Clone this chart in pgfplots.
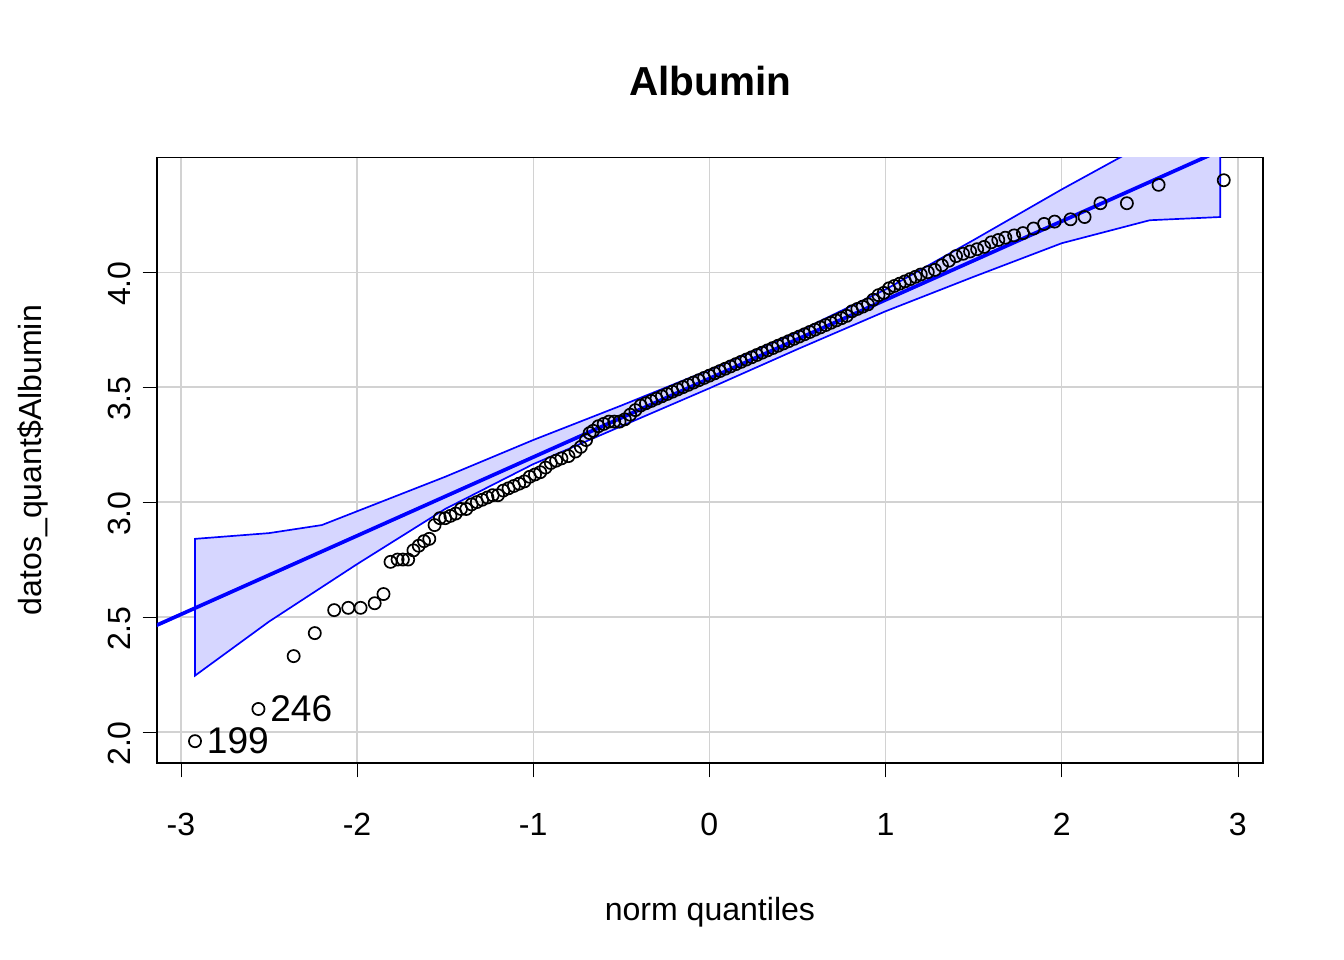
\documentclass[border=0pt]{standalone}
\usepackage{pgfplots}
\pgfplotsset{compat=1.18}
\usepackage{fontspec}
\setmainfont{Liberation Sans}
\begin{document}
\begin{tikzpicture}
\path (0,0) rectangle (14,-10);
\node[font=\fontsize{12}{14}\selectfont\bfseries] at (7.4,-0.84) {Albumin};
\begin{axis}[at={(1.635cm,-7.948cm)},anchor=south west,scale only axis,
 width=11.52cm,height=6.31cm,xmin=-3.136,xmax=3.142,ymin=1.865,ymax=4.5,
 xtick={-3,-2,-1,0,1,2,3},ytick={2,2.5,3,3.5,4},
 yticklabels={2.0,2.5,3.0,3.5,4.0},xticklabels={-3,-2,-1,0,1,2,3},
 xtick pos=left,ytick pos=left,
 grid=major,grid style={gray!35},tick align=outside,major tick length=0.15cm,
 tick style={black},axis line style={black},
 font=\fontsize{9.5}{11}\selectfont,
 x tick label style={yshift=-0.25cm},
 y tick label style={rotate=90,anchor=south,xshift=-0.12cm},
 xlabel={norm quantiles},ylabel={datos\_quant\$Albumin},
 xlabel style={yshift=-0.4cm},ylabel style={yshift=0.38cm},
 /pgf/number format/assume math mode=true]
\addplot[fill=blue!16,draw=blue,line width=0.5pt] coordinates {
(-2.92,2.84)(-2.5,2.865)(-2.2,2.9)(-2,2.96)(-1.5,3.11)(-1,3.27)(-0.5,3.42)(0,3.575)(0.5,3.74)(1,3.925)(1.5,4.14)(2,4.36)(2.5,4.57)(2.9,4.74)
(2.9,4.24)(2.5,4.226)(2,4.126)(1.5,3.98)(1,3.83)(0.5,3.665)(0,3.495)(-0.5,3.33)(-1,3.165)(-1.5,2.97)(-2,2.73)(-2.5,2.48)(-2.92,2.245)} -- cycle;
\addplot[blue,line width=1.1pt] coordinates {(-3.2,2.443)(3.2,4.632)};
\addplot[only marks,mark=o,mark size=1.8pt,black,mark options={line width=0.5pt}] coordinates {
(-2.92,1.96)(-2.56,2.10)(-2.36,2.33)(-2.24,2.43)(-2.13,2.53)(-2.05,2.54)(-1.98,2.54)(-1.90,2.56)(-1.85,2.60)
(-1.81,2.74)(-1.77,2.75)(-1.74,2.75)(-1.71,2.75)(-1.68,2.79)(-1.65,2.81)(-1.62,2.83)(-1.59,2.84)(-1.56,2.90)
(-1.53,2.93)(-1.50,2.93)(-1.47,2.94)(-1.44,2.95)(-1.41,2.97)(-1.38,2.97)(-1.35,2.99)(-1.32,3.00)(-1.29,3.01)
(-1.26,3.02)(-1.23,3.03)(-1.20,3.03)(-1.17,3.05)(-1.14,3.06)(-1.11,3.07)(-1.08,3.08)(-1.05,3.09)(-1.02,3.11)
(-0.99,3.12)(-0.96,3.13)(-0.93,3.15)(-0.90,3.17)(-0.87,3.18)(-0.84,3.19)(-0.80,3.20)(-0.76,3.22)(-0.73,3.24)
(-0.70,3.27)(-0.68,3.30)(-0.66,3.31)(-0.63,3.33)(-0.60,3.34)(-0.57,3.35)(-0.54,3.35)(-0.51,3.35)(-0.48,3.36)
(-0.45,3.38)(-0.42,3.40)(-0.39,3.42)(-0.36,3.43)(-0.33,3.44)(-0.30,3.45)(-0.27,3.46)(-0.24,3.47)(-0.21,3.48)
(-0.18,3.49)(-0.15,3.50)(-0.12,3.51)(-0.09,3.52)(-0.06,3.53)(-0.03,3.54)(0.00,3.55)(0.03,3.56)(0.06,3.57)
(0.09,3.58)(0.12,3.59)(0.15,3.60)(0.18,3.61)(0.21,3.62)(0.24,3.63)(0.27,3.64)(0.30,3.65)(0.33,3.66)(0.36,3.67)
(0.39,3.68)(0.42,3.69)(0.45,3.70)(0.48,3.71)(0.51,3.72)(0.54,3.73)(0.57,3.74)(0.60,3.75)(0.63,3.76)(0.66,3.77)
(0.69,3.78)(0.72,3.79)(0.75,3.80)(0.78,3.81)(0.81,3.83)(0.84,3.84)(0.87,3.85)(0.90,3.86)(0.93,3.88)(0.96,3.90)
(0.99,3.91)(1.02,3.93)(1.05,3.94)(1.08,3.95)(1.11,3.96)(1.14,3.97)(1.17,3.98)(1.20,3.99)(1.24,4.00)(1.28,4.01)
(1.32,4.03)(1.36,4.05)(1.40,4.07)(1.44,4.08)(1.48,4.09)(1.52,4.10)(1.56,4.11)(1.60,4.13)(1.64,4.14)(1.68,4.15)
(1.73,4.16)(1.78,4.17)(1.84,4.19)(1.90,4.21)(1.96,4.22)(2.05,4.23)(2.13,4.24)(2.22,4.30)(2.37,4.30)(2.55,4.38)(2.92,4.40)};
\node[anchor=west,font=\fontsize{11}{13}\selectfont] at (axis cs:-2.56,2.10) {246};
\node[anchor=west,font=\fontsize{11}{13}\selectfont] at (axis cs:-2.92,1.96) {199};
\end{axis}
\end{tikzpicture}
\end{document}
